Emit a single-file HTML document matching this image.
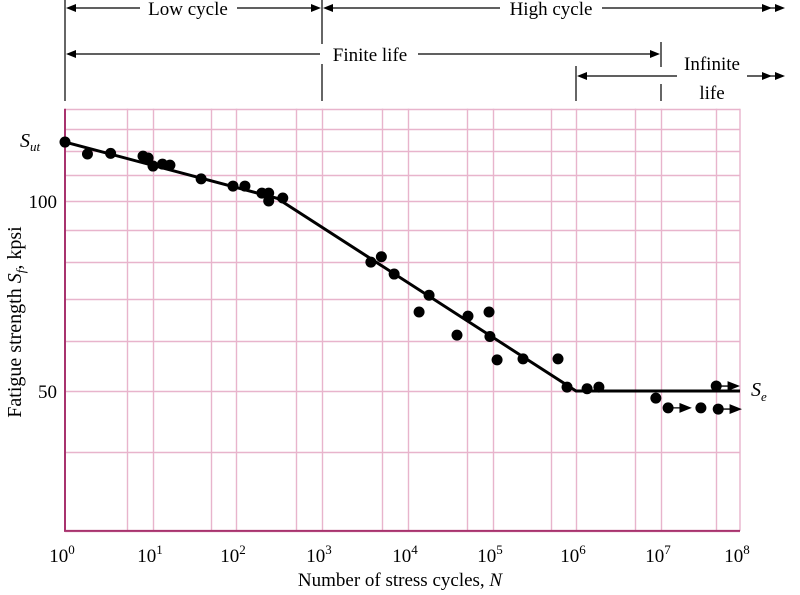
<!DOCTYPE html>
<html><head><meta charset="utf-8">
<style>
html,body{margin:0;padding:0;background:#fff;}
svg{display:block;font-family:"Liberation Serif",serif;}
</style></head>
<body>
<svg id="chart" width="800" height="595" viewBox="0 0 800 595" xmlns="http://www.w3.org/2000/svg">
<g id="grid"></g>
<g id="annot" stroke="#000" stroke-width="1.2" fill="none">
  <line x1="65" y1="0" x2="65" y2="101"/>
  <line x1="322" y1="0" x2="322" y2="44"/><line x1="322" y1="64" x2="322" y2="101"/>
  <line x1="661" y1="42" x2="661" y2="67"/><line x1="661" y1="84" x2="661" y2="101"/>
  <line x1="576" y1="66" x2="576" y2="101"/>
  <line x1="68" y1="8" x2="140" y2="8"/><line x1="237" y1="8" x2="318" y2="8"/>
  <line x1="326" y1="8" x2="500" y2="8"/><line x1="602" y1="8" x2="782" y2="8"/>
  <line x1="68" y1="54" x2="320" y2="54"/><line x1="418" y1="54" x2="657" y2="54"/>
  <line x1="580" y1="76" x2="677" y2="76"/><line x1="747" y1="76" x2="783" y2="76"/>
</g>
<g fill="#000">
  <polygon points="66,8 76,4 76,12"/><polygon points="321,8 311,4 311,12"/>
  <polygon points="323,8 333,4 333,12"/><polygon points="772,8 762,4 762,12"/><polygon points="785,8 775,4 775,12"/>
  <polygon points="66,54 76,50 76,58"/><polygon points="660,54 650,50 650,58"/>
  <polygon points="577,76 587,72 587,80"/><polygon points="772,76 762,72 762,80"/><polygon points="785,76 775,72 775,80"/>
</g>
<g font-size="19" fill="#000">
  <text x="188" y="15" text-anchor="middle">Low cycle</text>
  <text x="551" y="15" text-anchor="middle">High cycle</text>
  <text x="370" y="61" text-anchor="middle">Finite life</text>
  <text x="712" y="70" text-anchor="middle">Infinite</text>
  <text x="712" y="99" text-anchor="middle">life</text>
</g>
<g id="marks"></g>
<g font-size="19" fill="#000">
  <text x="57" y="208" text-anchor="end">100</text>
  <text x="57" y="398" text-anchor="end">50</text>
  <text x="20" y="147" font-style="italic" font-size="20">S<tspan font-size="13" dy="4">ut</tspan></text>
  <text x="751" y="396" font-style="italic" font-size="20">S<tspan font-size="13" dy="5">e</tspan></text>
  <text x="400" y="586" text-anchor="middle">Number of stress cycles, <tspan font-style="italic">N</tspan></text>
  <text transform="translate(21,322) rotate(-90)" text-anchor="middle" font-size="20">Fatigue strength <tspan font-style="italic">S</tspan><tspan font-style="italic" font-size="13" dy="4">f</tspan><tspan dy="-4">, kpsi</tspan></text>
</g>
<g id="xticks" font-size="19"></g>
</svg>
<script>
const decadeExps = [0,1,2,3,4,5,6,7,8];
const yGridValues = [30,40,50,60,70,80,90,100,110,120,130,140];
const fitN = [1, 300, 1e6, 1e8];
const fitS = [124, 101, 50, 50];
const testN = [1,1.8,3.3,7.7,8.8,10,13,16,38,92,127,200,240,240,350,3700,4900,6900,13500,17700,37700,50800,89800,92000,112000,230000,607000,780000,1.35e6,1.86e6,8.7e6];
const testS = [124,118.7,119,117.8,117,113.6,114.4,114,108.4,105.6,105.6,102.9,102.9,100,101.1,80,81.6,76.6,66.7,70.9,61.3,65.7,66.7,61,56,56.2,56.2,50.7,50.4,50.7,48.7];
const runoutN = [1.23e7, 3.2e7, 5.3e7, 5.0e7];
const runoutS = [47, 47, 46.8, 50.9];
const runoutArrow = [true, false, true, true];

const NS='http://www.w3.org/2000/svg';
const decadePx=[65,153,236,322,408,493,576,661,740];
function xs(n){const l=Math.log10(n);let i=Math.min(7,Math.max(0,Math.floor(l)));return decadePx[i]+(l-i)*(decadePx[i+1]-decadePx[i]);}
function ys(s){return 201-631*Math.log10(s/100);}
function mk(t,a,p){const e=document.createElementNS(NS,t);for(const k in a)e.setAttribute(k,a[k]);(p||document.getElementById('marks')).appendChild(e);return e;}
const grid=document.getElementById('grid');
const X0=xs(1),X1=xs(1e8),Y0=ys(30),Y1=ys(140);
const GC='#e8b4cc';
for(let d=0;d<8;d++){for(const m of [5,10]){const n=m*Math.pow(10,d);if(d===7&&m===10)continue;
 const x=Math.round(xs(n))+0.5;
 const l=mk('line',{x1:x,x2:x,y1:Y1,y2:Y0,stroke:GC,'stroke-width':1.4},grid);
 
 }}
mk('line',{x1:X1,x2:X1,y1:Y1,y2:Y0,stroke:GC,'stroke-width':1.4},grid);
yGridValues.forEach(v=>{const y=Math.round(ys(v))+0.5;const l=mk('line',{x1:X0,x2:X1,y1:y,y2:y,stroke:GC,'stroke-width':1.4},grid);
 
 });
const ax=mk('path',{d:`M${X0},${Y1}V${Y0}H${X1}`,stroke:'#a8336e','stroke-width':2,fill:'none'},grid);


const fit=mk('polyline',{points:fitN.map((n,i)=>xs(n)+','+ys(fitS[i])).join(' '),stroke:'#000','stroke-width':3,fill:'none'});


testN.forEach((n,i)=>{const c=mk('circle',{cx:xs(n),cy:ys(testS[i]),r:5.5,fill:'#000'});
 
 });
runoutN.forEach((n,i)=>{const x=xs(n),y=ys(runoutS[i]);const c=mk('circle',{cx:x,cy:y,r:5.5,fill:'#000'});
 
 
 if(runoutArrow[i]){const a=mk('path',{d:`M${x},${y}H${x+22}M${x+12},${y-4}L${x+22},${y}L${x+12},${y+4}Z`,stroke:'#000','stroke-width':1.3,fill:'#000'});
 
 }});
const xt=document.getElementById('xticks');
decadeExps.forEach(e=>{const t=mk('text',{x:xs(Math.pow(10,e))-3,y:562,'text-anchor':'middle'},xt);
 
 
 t.innerHTML='10<tspan font-size="13" dy="-8">'+e+'</tspan>';});
</script>
</body></html>
